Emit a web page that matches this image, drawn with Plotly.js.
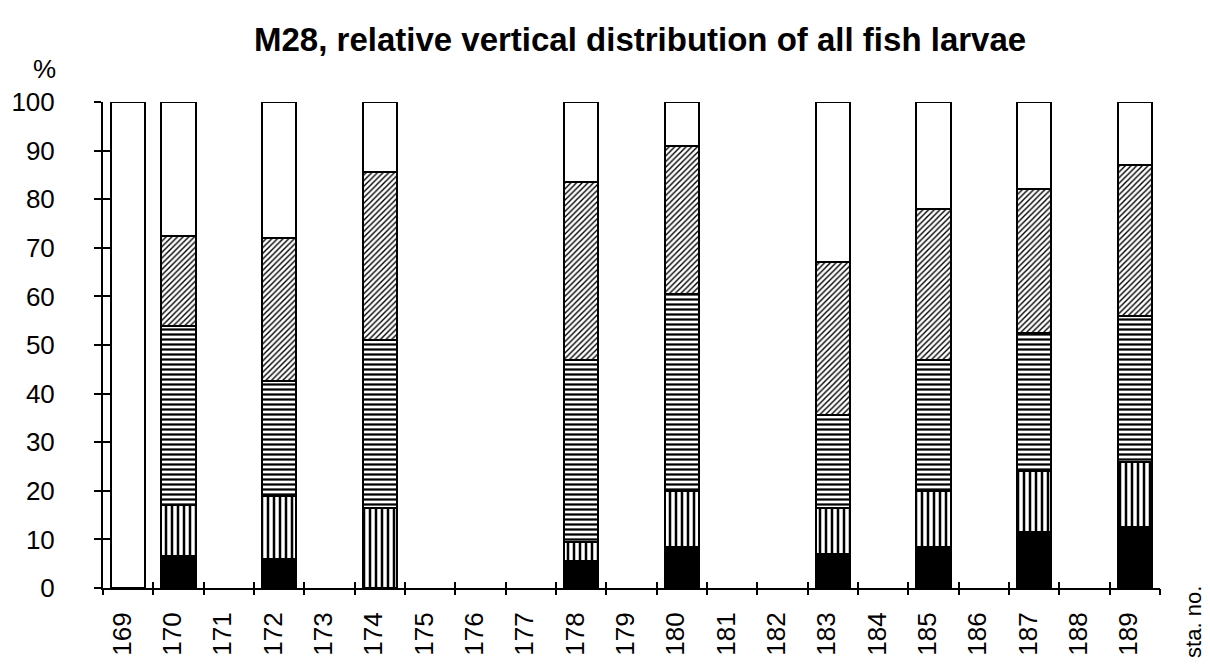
<!DOCTYPE html>
<html>
<head>
<meta charset="utf-8">
<script src="https://cdn.plot.ly/plotly-3.0.1.min.js"></script>
<style>html,body{margin:0;padding:0;background:#fff;}#chart{width:1210px;height:664px;}</style>
</head>
<body>
<div id="chart"></div>
<script>
// Station numbers (categories)
const stations = [169,170,171,172,173,174,175,176,177,178,179,180,181,182,183,184,185,186,187,188,189];
// Layer values (%), bottom to top; null = no sample
const solidBlack   = [0, 6.5, null, 6,    null, 0,    null, null, null, 5.5,  null, 8.5,  null, null, 7,    null, 8.5,  null, 11.5, null, 12.5];
const verticalHatch= [0, 10.5,null, 13,   null, 16.5, null, null, null, 4,    null, 11.5, null, null, 9.5,  null, 11.5, null, 12.5, null, 13.5];
const horizHatch   = [0, 37,  null, 23.5, null, 34.5, null, null, null, 37.5, null, 40.5, null, null, 19,   null, 27,   null, 28.5, null, 30];
const diagHatch    = [0, 18.5,null, 29.5, null, 34.5, null, null, null, 36.5, null, 30.5, null, null, 31.5, null, 31,   null, 29.5, null, 31];
const whiteLayer   = [100,27.5,null,28,   null, 14.5, null, null, null, 16.5, null, 9,    null, null, 33,   null, 22,   null, 18,   null, 13];
const tickLabels = stations.map(String);
const yTicks = [0,10,20,30,40,50,60,70,80,90,100];

const font = 'Liberation Sans, Arial, Helvetica, sans-serif';
const line = {color:'#000', width:2};
const barW = 0.68;

function layer(y, name, markerExtra){
  return {
    type:'bar', x:stations, y:y, name:name, width:barW, hoverinfo:'skip',
    marker: Object.assign({line:line}, markerExtra)
  };
}

const traces = [
  layer(solidBlack, 'black', {color:'#000'}),
  layer(verticalHatch, 'vertical', {color:'#fff', pattern:{shape:'|', fgcolor:'#000', bgcolor:'#fff', size:6, solidity:0.42, fillmode:'replace'}}),
  layer(horizHatch, 'horizontal', {color:'#fff', pattern:{shape:'-', fgcolor:'#000', bgcolor:'#fff', size:5, solidity:0.45, fillmode:'replace'}}),
  layer(diagHatch, 'diagonal', {color:'#fff', pattern:{shape:'/', fgcolor:'#000', bgcolor:'#fff', size:4, solidity:0.35, fillmode:'replace'}}),
  layer(whiteLayer, 'white', {color:'#fff'})
];
// invisible traces to carry overlay axes (cross ticks)
traces.push({type:'scatter', x:[169], y:[0], xaxis:'x2', yaxis:'y2', mode:'markers', marker:{opacity:0}, hoverinfo:'skip', showlegend:false});
traces.push({type:'scatter', x:[169], y:[0], xaxis:'x3', yaxis:'y', mode:'markers', marker:{opacity:0}, hoverinfo:'skip', showlegend:false});

const boundaryTicks = stations.map(s=>s-0.5).concat([stations[stations.length-1]+0.5]);

const layout = {
  width:1210, height:664,
  margin:{l:103, r:50, t:102, b:76},
  paper_bgcolor:'#fff', plot_bgcolor:'#fff',
  barmode:'stack', showlegend:false,
  font:{family:font, size:24, color:'#000'},
  title:{text:'<b>M28, relative vertical distribution of all fish larvae</b>', font:{family:font, size:33, color:'#000'}, x:0.529, xref:'container', xanchor:'center', y:0.94, yref:'container', yanchor:'middle'},
  xaxis:{
    range:[168.5,189.5], tickmode:'array', tickvals:stations, ticktext:tickLabels,
    tickangle:-90, showgrid:false, zeroline:false, showline:true, linecolor:'#000', linewidth:2,
    ticks:'', ticklabelshift:-6, ticklabelstandoff:12,
    tickfont:{family:font, size:26, color:'#000'}
  },
  xaxis2:{
    overlaying:'x', range:[168.5,189.5], tickmode:'array', tickvals:boundaryTicks,
    ticks:'outside', ticklen:6, tickwidth:2, tickcolor:'#000',
    showticklabels:false, showgrid:false, zeroline:false, showline:false, anchor:'y'
  },
  xaxis3:{
    overlaying:'x', range:[168.5,189.5], tickmode:'array', tickvals:boundaryTicks,
    ticks:'inside', ticklen:6, tickwidth:2, tickcolor:'#000',
    showticklabels:false, showgrid:false, zeroline:false, showline:false, anchor:'y'
  },
  yaxis:{
    range:[0,100], tickmode:'array', tickvals:yTicks,
    showgrid:false, zeroline:false, showline:true, linecolor:'#000', linewidth:2,
    ticks:'outside', ticklen:7, tickwidth:2, tickcolor:'#000', ticklabelstandoff:34,
    tickfont:{family:font, size:26, color:'#000'}
  },
  yaxis2:{
    overlaying:'y', range:[0,100], tickmode:'array', tickvals:yTicks,
    ticks:'inside', ticklen:8, tickwidth:2, tickcolor:'#000', side:'left',
    showticklabels:false, showgrid:false, zeroline:false, showline:false, anchor:'x'
  },
  annotations:[
    {text:'%', xref:'paper', yref:'paper', x:-0.055, y:1.068, showarrow:false, font:{family:font, size:26, color:'#000'}, xanchor:'center', yanchor:'middle'},
    {text:'sta. no.', xref:'paper', yref:'paper', x:1.031, y:0.008, showarrow:false, textangle:-90, font:{family:font, size:22, color:'#000'}, xanchor:'center', yanchor:'top'}
  ]
};

Plotly.newPlot('chart', traces, layout, {staticPlot:true, displayModeBar:false});
</script>
</body>
</html>
